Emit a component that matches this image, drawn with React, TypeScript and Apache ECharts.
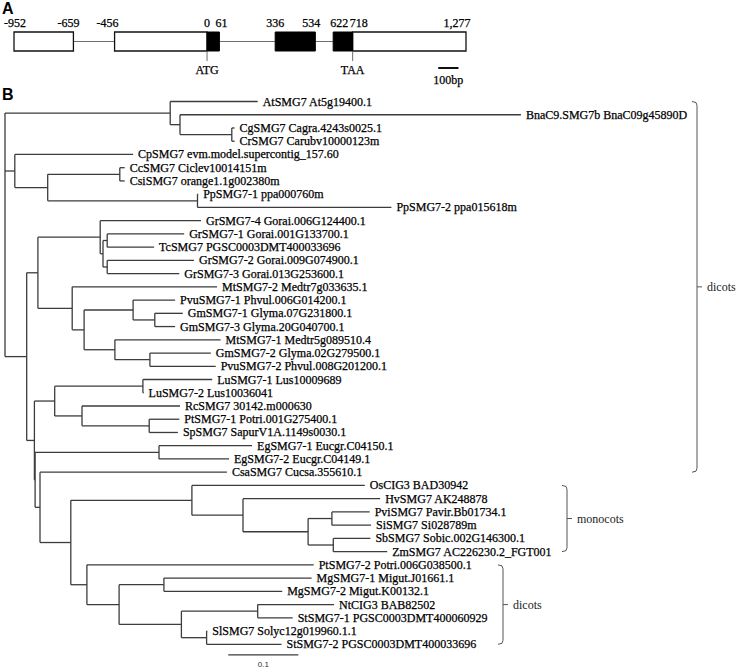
import React, { useEffect, useRef } from "react";
import * as echarts from "echarts";

// ---------- Panel A: gene structure (positions in bp relative to ATG) ----------
const utrRegions: number[][] = [[-952, -659], [-456, 0], [718, 1277]];
const cdsRegions: number[][] = [[0, 61], [336, 534], [622, 718]];
const intronRegions: number[][] = [[-659, -456], [61, 336], [534, 622]];
const positionTicks = [-952, -659, -456, 0, 61, 336, 534, 622, 718, 1277];
const positionLabels = ["-952", "-659", "-456", "0", "61", "336", "534", "622", "718", "1,277"];
const codonLabels = ["ATG", "TAA"];
const codonPositions = [0, 718];
const bpScaleStart = 1140;
const bpScaleLength = 100;
const bpScaleLabel = "100bp";

// ---------- Panel B: neighbour-joining tree (branch lengths, substitutions/site) ----------
const brassicaClade = "(At:0.125,(Bna:0.487,(Cg:0.004,Cr:0.004):0.074):0.014)";
const citrusClade = "(Cp:0.169,((Cc:0.007,Csi:0.007):0.103,(Pp1:0.001,Pp2:0.277):0.214):0.047)";
const malvaleClade = "(Gr4:0.144,((Gr1:0.11,Tc:0.067):0.006,(Gr2:0.124,Gr3:0.103):0.006):0.004)";
const legumeClade =
  "(Mt2:0.207,((Pvu1:0.06,(Gm1:0.04,Gm3:0.029):0.031):0.07,(Mt1:0.151,(Gm2:0.087,Pvu2:0.094):0.05):0.044):0.017)";
const malpighialeClade = "((Lu1:0.099,Lu2:0.001):0.126,(Rc:0.14,(Pt1:0.043,Sp:0.041):0.096):0.039)";
const eucalyptusClade = "(Eg1:0.133,Eg2:0.1)";
const monocotClade =
  "(Os:0.247,(Hv:0.196,((Pvi:0.054,Si:0.056):0.034,(Sb:0.053,Zm:0.077):0.036):0.093):0.073)";
const asteridClade =
  "(Pt2:0.324,((Mg1:0.211,Mg2:0.169):0.064,((Nt:0.109,St1:0.05):0.109,(Sl:0.001,St2:0.107):0.036):0.089):0.046)";

const treeNewick =
  `(${brassicaClade}:0.236,${citrusClade}:0.014,` +
  `((${malvaleClade}:0.089,${legumeClade}:0.049):0.016,` +
  `(${malpighialeClade}:0.029,(${eucalyptusClade}:0.177,(Csa:0.267,(${monocotClade}:0.173,${asteridClade}:0.023):0.044):0.007):0.001):0.011):0.031);`;

const taxonLabels: Record<string, string> = {
  At: "AtSMG7 At5g19400.1",
  Bna: "BnaC9.SMG7b BnaC09g45890D",
  Cg: "CgSMG7 Cagra.4243s0025.1",
  Cr: "CrSMG7 Carubv10000123m",
  Cp: "CpSMG7 evm.model.supercontig_157.60",
  Cc: "CcSMG7 Ciclev10014151m",
  Csi: "CsiSMG7 orange1.1g002380m",
  Pp1: "PpSMG7-1 ppa000760m",
  Pp2: "PpSMG7-2 ppa015618m",
  Gr4: "GrSMG7-4 Gorai.006G124400.1",
  Gr1: "GrSMG7-1 Gorai.001G133700.1",
  Tc: "TcSMG7 PGSC0003DMT400033696",
  Gr2: "GrSMG7-2 Gorai.009G074900.1",
  Gr3: "GrSMG7-3 Gorai.013G253600.1",
  Mt2: "MtSMG7-2 Medtr7g033635.1",
  Pvu1: "PvuSMG7-1 Phvul.006G014200.1",
  Gm1: "GmSMG7-1 Glyma.07G231800.1",
  Gm3: "GmSMG7-3 Glyma.20G040700.1",
  Mt1: "MtSMG7-1 Medtr5g089510.4",
  Gm2: "GmSMG7-2 Glyma.02G279500.1",
  Pvu2: "PvuSMG7-2 Phvul.008G201200.1",
  Lu1: "LuSMG7-1 Lus10009689",
  Lu2: "LuSMG7-2 Lus10036041",
  Rc: "RcSMG7 30142.m000630",
  Pt1: "PtSMG7-1 Potri.001G275400.1",
  Sp: "SpSMG7 SapurV1A.1149s0030.1",
  Eg1: "EgSMG7-1 Eucgr.C04150.1",
  Eg2: "EgSMG7-2 Eucgr.C04149.1",
  Csa: "CsaSMG7 Cucsa.355610.1",
  Os: "OsCIG3 BAD30942",
  Hv: "HvSMG7 AK248878",
  Pvi: "PviSMG7 Pavir.Bb01734.1",
  Si: "SiSMG7 Si028789m",
  Sb: "SbSMG7 Sobic.002G146300.1",
  Zm: "ZmSMG7 AC226230.2_FGT001",
  Pt2: "PtSMG7-2 Potri.006G038500.1",
  Mg1: "MgSMG7-1 Migut.J01661.1",
  Mg2: "MgSMG7-2 Migut.K00132.1",
  Nt: "NtCIG3 BAB82502",
  St1: "StSMG7-1 PGSC0003DMT400060929",
  Sl: "SlSMG7 Solyc12g019960.1.1",
  St2: "StSMG7-2 PGSC0003DMT400033696",
};

const cladeNames = ["dicots", "monocots", "dicots"];
const cladeFirstTaxon = ["At", "Os", "Pt2"];
const cladeLastTaxon = ["Csa", "Zm", "St2"];

const distanceScale = 0.1;
const distanceScaleLabel = "0.1";

// ---------- styling constants (not data) ----------
const SERIF = '"Liberation Serif", "Times New Roman", Times, serif';
const SANS = '"Liberation Sans", Arial, Helvetica, sans-serif';
const TEXT_COLOR = "#000";
const TREE_COLOR = "#3c3c3c";
const positionLabelNudge = [1, -5, -7, 0, 2, 0, -4, 6, 6, -9];
const bracketPixelX = [697, 567, 503];
const treeScaleStart = 0.319;
const treeScaleRow = 41.8;

type TNode = { name: string; len: number; children: TNode[]; depth: number; y: number };

function parseNewick(s: string): TNode {
  let i = 0;
  function parseNode(): TNode {
    const node: TNode = { name: "", len: 0, children: [], depth: 0, y: 0 };
    if (s[i] === "(") {
      i++;
      node.children.push(parseNode());
      while (s[i] === ",") {
        i++;
        node.children.push(parseNode());
      }
      i++; // ')'
    }
    let name = "";
    while (i < s.length && !",():;".includes(s[i])) name += s[i++];
    node.name = name.trim();
    if (s[i] === ":") {
      i++;
      let num = "";
      while (i < s.length && !",();".includes(s[i])) num += s[i++];
      node.len = parseFloat(num);
    }
    return node;
  }
  return parseNode();
}

function layoutTree(root: TNode) {
  const leaves: { key: string; depth: number; y: number }[] = [];
  const segments: number[][] = [];
  function walk(n: TNode, parentDepth: number, isRoot: boolean) {
    n.depth = parentDepth + n.len;
    if (n.children.length === 0) {
      n.y = leaves.length;
      leaves.push({ key: n.name, depth: n.depth, y: n.y });
    } else {
      n.children.forEach((c) => walk(c, n.depth, false));
      const first = n.children[0];
      const last = n.children[n.children.length - 1];
      n.y = (first.y + last.y) / 2;
      segments.push([n.depth, first.y, n.depth, last.y]);
    }
    if (!isRoot) segments.push([parentDepth, n.y, n.depth, n.y]);
  }
  walk(root, 0, true);
  return { leaves, segments };
}

function textEl(x: number, y: number, text: string, font: string, align: string, fill = TEXT_COLOR, heavy = true) {
  return {
    type: "text",
    x,
    y,
    style: {
      text,
      font,
      fill,
      stroke: heavy ? fill : null,
      lineWidth: heavy ? 0.25 : 0,
      align,
      textAlign: align,
      verticalAlign: "middle",
      textVerticalAlign: "middle",
    },
  };
}

export default function App() {
  const ref = useRef<HTMLDivElement>(null);

  useEffect(() => {
    document.body.style.margin = "0";
    if (!ref.current) return;
    const chart = echarts.init(ref.current, undefined, { renderer: "svg" });

    const tree = parseNewick(treeNewick);
    const { leaves, segments } = layoutTree(tree);
    const leafIndex: Record<string, number> = {};
    leaves.forEach((l) => (leafIndex[l.key] = l.y));
    const cladeRanges = cladeNames.map((_, i) => [leafIndex[cladeFirstTaxon[i]], leafIndex[cladeLastTaxon[i]]]);

    const gA = { xAxisIndex: 0, yAxisIndex: 0, coordinateSystem: "cartesian2d", type: "custom", clip: false, silent: true };
    const gB = { xAxisIndex: 1, yAxisIndex: 1, coordinateSystem: "cartesian2d", type: "custom", clip: false, silent: true };

    const option: any = {
      animation: false,
      grid: [
        { left: 14, top: 32, width: 452, height: 19 },
        { left: 5, top: 101.5, width: 700, height: 542.8 },
      ],
      xAxis: [
        { type: "value", gridIndex: 0, min: -952, max: 1277, show: false },
        { type: "value", gridIndex: 1, min: 0, max: 1, show: false },
      ],
      yAxis: [
        { type: "value", gridIndex: 0, min: 0, max: 1, show: false },
        { type: "value", gridIndex: 1, min: 0, max: 41, inverse: true, show: false },
      ],
      graphic: [
        {
          type: "text",
          left: 2,
          top: 0,
          style: { text: "A", font: `bold 16px ${SANS}`, fill: "#000" },
        },
        {
          type: "text",
          left: 2,
          top: 86,
          style: { text: "B", font: `bold 16px ${SANS}`, fill: "#000" },
        },
      ],
      series: [
        // introns / intergenic lines
        {
          ...gA,
          data: intronRegions,
          encode: { x: [0, 1] },
          renderItem: (_p: any, api: any) => {
            const a = api.coord([api.value(0), 0.5]);
            const b = api.coord([api.value(1), 0.5]);
            return {
              type: "line",
              shape: { x1: a[0], y1: a[1], x2: b[0], y2: b[1] },
              style: { stroke: "#6e6e6e", lineWidth: 1 },
            };
          },
        },
        // UTR boxes
        {
          ...gA,
          data: utrRegions,
          encode: { x: [0, 1] },
          renderItem: (_p: any, api: any) => {
            const a = api.coord([api.value(0), 1]);
            const b = api.coord([api.value(1), 0]);
            return {
              type: "rect",
              shape: { x: a[0], y: a[1], width: b[0] - a[0], height: b[1] - a[1] },
              style: { fill: "#fff", stroke: "#111", lineWidth: 1.3 },
            };
          },
        },
        // CDS boxes
        {
          ...gA,
          data: cdsRegions,
          encode: { x: [0, 1] },
          renderItem: (_p: any, api: any) => {
            const a = api.coord([api.value(0), 1]);
            const b = api.coord([api.value(1), 0]);
            return {
              type: "rect",
              shape: { x: a[0], y: a[1], width: b[0] - a[0], height: b[1] - a[1] },
              style: { fill: "#000", stroke: "#000", lineWidth: 1 },
            };
          },
        },
        // position labels
        {
          ...gA,
          data: positionTicks.map((p) => [p, 1]),
          renderItem: (params: any, api: any) => {
            const a = api.coord([api.value(0), 1]);
            return textEl(
              a[0] + positionLabelNudge[params.dataIndex],
              a[1] - 9,
              positionLabels[params.dataIndex],
              `12px ${SERIF}`,
              "center"
            );
          },
        },
        // start / stop codons
        {
          ...gA,
          data: codonPositions.map((p) => [p, 0]),
          renderItem: (params: any, api: any) => {
            const a = api.coord([api.value(0), 0]);
            return {
              type: "group",
              children: [
                {
                  type: "line",
                  shape: { x1: a[0], y1: a[1], x2: a[0], y2: a[1] + 10 },
                  style: { stroke: "#6e6e6e", lineWidth: 1 },
                },
                textEl(a[0], a[1] + 19, codonLabels[params.dataIndex], `12px ${SERIF}`, "center"),
              ],
            };
          },
        },
        // bp scale bar
        {
          ...gA,
          data: [[bpScaleStart, bpScaleStart + bpScaleLength]],
          encode: { x: [0, 1] },
          renderItem: (_p: any, api: any) => {
            const a = api.coord([api.value(0), 0]);
            const b = api.coord([api.value(1), 0]);
            return {
              type: "group",
              children: [
                {
                  type: "line",
                  shape: { x1: a[0], y1: a[1] + 17, x2: b[0], y2: b[1] + 17 },
                  style: { stroke: "#111", lineWidth: 2 },
                },
                textEl((a[0] + b[0]) / 2, a[1] + 29, bpScaleLabel, `12px ${SERIF}`, "center"),
              ],
            };
          },
        },
        // tree branches
        {
          ...gB,
          data: segments,
          encode: { x: [0, 2], y: [1, 3] },
          renderItem: (_p: any, api: any) => {
            const a = api.coord([api.value(0), api.value(1)]);
            const b = api.coord([api.value(2), api.value(3)]);
            return {
              type: "line",
              shape: { x1: a[0], y1: a[1], x2: b[0], y2: b[1] },
              style: { stroke: TREE_COLOR, lineWidth: 1.3 },
            };
          },
        },
        // taxon labels
        {
          ...gB,
          data: leaves.map((l) => [l.depth, l.y]),
          renderItem: (params: any, api: any) => {
            const a = api.coord([api.value(0), api.value(1)]);
            const key = leaves[params.dataIndex].key;
            return textEl(a[0] + 5, a[1], taxonLabels[key] || key, `12px ${SERIF}`, "left");
          },
        },
        // clade brackets
        {
          ...gB,
          data: cladeRanges,
          encode: { y: [0, 1] },
          renderItem: (params: any, api: any) => {
            const i = params.dataIndex;
            const top = api.coord([0, api.value(0)])[1];
            const bot = api.coord([0, api.value(1)])[1];
            const mid = (top + bot) / 2;
            const bx = bracketPixelX[i];
            return {
              type: "group",
              children: [
                {
                  type: "polyline",
                  shape: {
                    points: [
                      [bx - 5, top],
                      [bx - 1, top + 1],
                      [bx, top + 4],
                      [bx, bot - 4],
                      [bx - 1, bot - 1],
                      [bx - 5, bot],
                    ],
                  },
                  style: { stroke: "#555", lineWidth: 1, fill: null },
                },
                {
                  type: "line",
                  shape: { x1: bx, y1: mid, x2: bx + 5, y2: mid },
                  style: { stroke: "#555", lineWidth: 1 },
                },
                textEl(bx + 10, mid, cladeNames[i], `12px ${SERIF}`, "left", "#222", false),
              ],
            };
          },
        },
        // distance scale bar
        {
          ...gB,
          data: [[treeScaleStart, treeScaleRow, treeScaleStart + distanceScale, treeScaleRow]],
          encode: { x: [0, 2], y: [1, 3] },
          renderItem: (_p: any, api: any) => {
            const a = api.coord([api.value(0), api.value(1)]);
            const b = api.coord([api.value(2), api.value(3)]);
            return {
              type: "group",
              children: [
                {
                  type: "line",
                  shape: { x1: a[0], y1: a[1], x2: b[0], y2: b[1] },
                  style: { stroke: TREE_COLOR, lineWidth: 1.2 },
                },
                textEl((a[0] + b[0]) / 2, a[1] + 10, distanceScaleLabel, `8px ${SANS}`, "center", "#333", false),
              ],
            };
          },
        },
      ],
    };

    chart.setOption(option);
    return () => chart.dispose();
  }, []);

  return <div ref={ref} style={{ width: 738, height: 670, background: "#fff" }} />;
}
